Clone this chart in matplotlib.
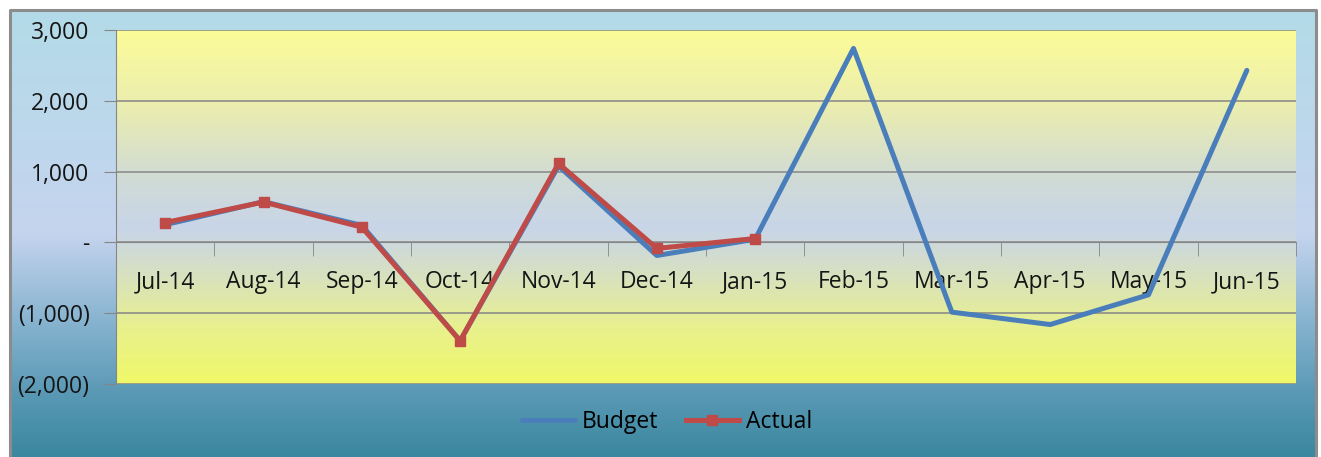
import numpy as np
import matplotlib
matplotlib.use("Agg")
from matplotlib import pyplot as plt
from matplotlib.colors import LinearSegmentedColormap
from matplotlib.ticker import FixedLocator, FuncFormatter

## data
months = ['Jul-14', 'Aug-14', 'Sep-14', 'Oct-14', 'Nov-14', 'Dec-14',
          'Jan-15', 'Feb-15', 'Mar-15', 'Apr-15', 'May-15', 'Jun-15']
budget = [250, 575, 240, -1390, 1080, -185, 45, 2740, -985, -1160, -740, 2430]
actual = [280, 570, 215, -1390, 1115, -85, 55]

plt.rcParams['font.family'] = ['Open Sans', 'DejaVu Sans']
fs = 16.5

fig = plt.figure(figsize=(13.21, 4.57), dpi=100)
W, H = 1321.0, 457.0

## outer chart area: white page, framed gradient box
bg = fig.add_axes([0, 0, 1, 1], zorder=0)
bg.set_xlim(0, W)
bg.set_ylim(H, 0)
bg.axis('off')
outer_cmap = LinearSegmentedColormap.from_list('outer', [
    (0.0, '#b3dbe8'), (0.5, '#c5d4ee'), (0.7, '#86b3cf'), (0.85, '#5c9ab6'), (1.0, '#3a879e')])
grad = np.linspace(0, 1, 256).reshape(-1, 1)
bg.imshow(grad, cmap=outer_cmap, aspect='auto', extent=(10, 1316, H, 10), zorder=1)
bg.plot([10, 10, 1316, 1316], [H, 10, 10, H], color='#8c8c8c', lw=2.2, zorder=2)

## plot area
ax = fig.add_axes([116 / W, 73 / H, 1180 / W, 354 / H], zorder=1)
ax.patch.set_alpha(0)
inner_cmap = LinearSegmentedColormap.from_list('inner', [
    (0.0, '#fcfc98'), (0.22, '#eaedb0'), (0.42, '#d0dbd6'), (0.56, '#c8d5e8'),
    (0.68, '#d6e0c4'), (0.84, '#e8f08e'), (1.0, '#f0f868')])
ax.imshow(grad, cmap=inner_cmap, aspect='auto', extent=(0, 1, 0, 1),
          transform=ax.transAxes, zorder=0)

x = np.arange(len(months))
ax.plot(x, budget, color='#4a7ebb', lw=3.6, label='Budget', zorder=3, solid_capstyle='round')
ax.plot(x[:len(actual)], actual, color='#be4b48', lw=3.6, marker='s', markersize=7,
        label='Actual', zorder=4)

ax.set_xlim(-0.5, len(months) - 0.5)
ax.set_ylim(-2000, 3000)
ax.set_yticks(np.arange(-2000, 3001, 1000))
ax.grid(axis='y', color='#868686', lw=1.1, zorder=1)
ax.set_axisbelow(True)


def money(v, pos):
    if v == 0:
        return '-'
    if v < 0:
        return '({:,.0f})'.format(-v)
    return '{:,.0f}'.format(v)


ax.yaxis.set_major_formatter(FuncFormatter(money))
ax.tick_params(axis='y', length=9, color='#868686', labelsize=fs, labelcolor='#151515', pad=10)

## category axis crossing at zero
for s in ['top', 'right']:
    ax.spines[s].set_visible(False)
ax.spines['left'].set_color('#868686')
ax.spines['bottom'].set_position(('data', 0))
ax.spines['bottom'].set_color('#868686')
ax.set_xticks(x)
ax.set_xticklabels(months)
ax.xaxis.set_minor_locator(FixedLocator(np.arange(0.5, len(months), 1)))
ax.tick_params(axis='x', which='major', length=0, labelsize=fs, labelcolor='#151515', pad=20)
ax.tick_params(axis='x', which='minor', length=10, color='#868686', direction='out')

fig.legend(loc='center', bbox_to_anchor=(0.505, 0.077), ncol=2, frameon=False,
           fontsize=fs, handlelength=2.3, columnspacing=1.2, handletextpad=0.3)

plt.savefig('out.png', dpi=100)
